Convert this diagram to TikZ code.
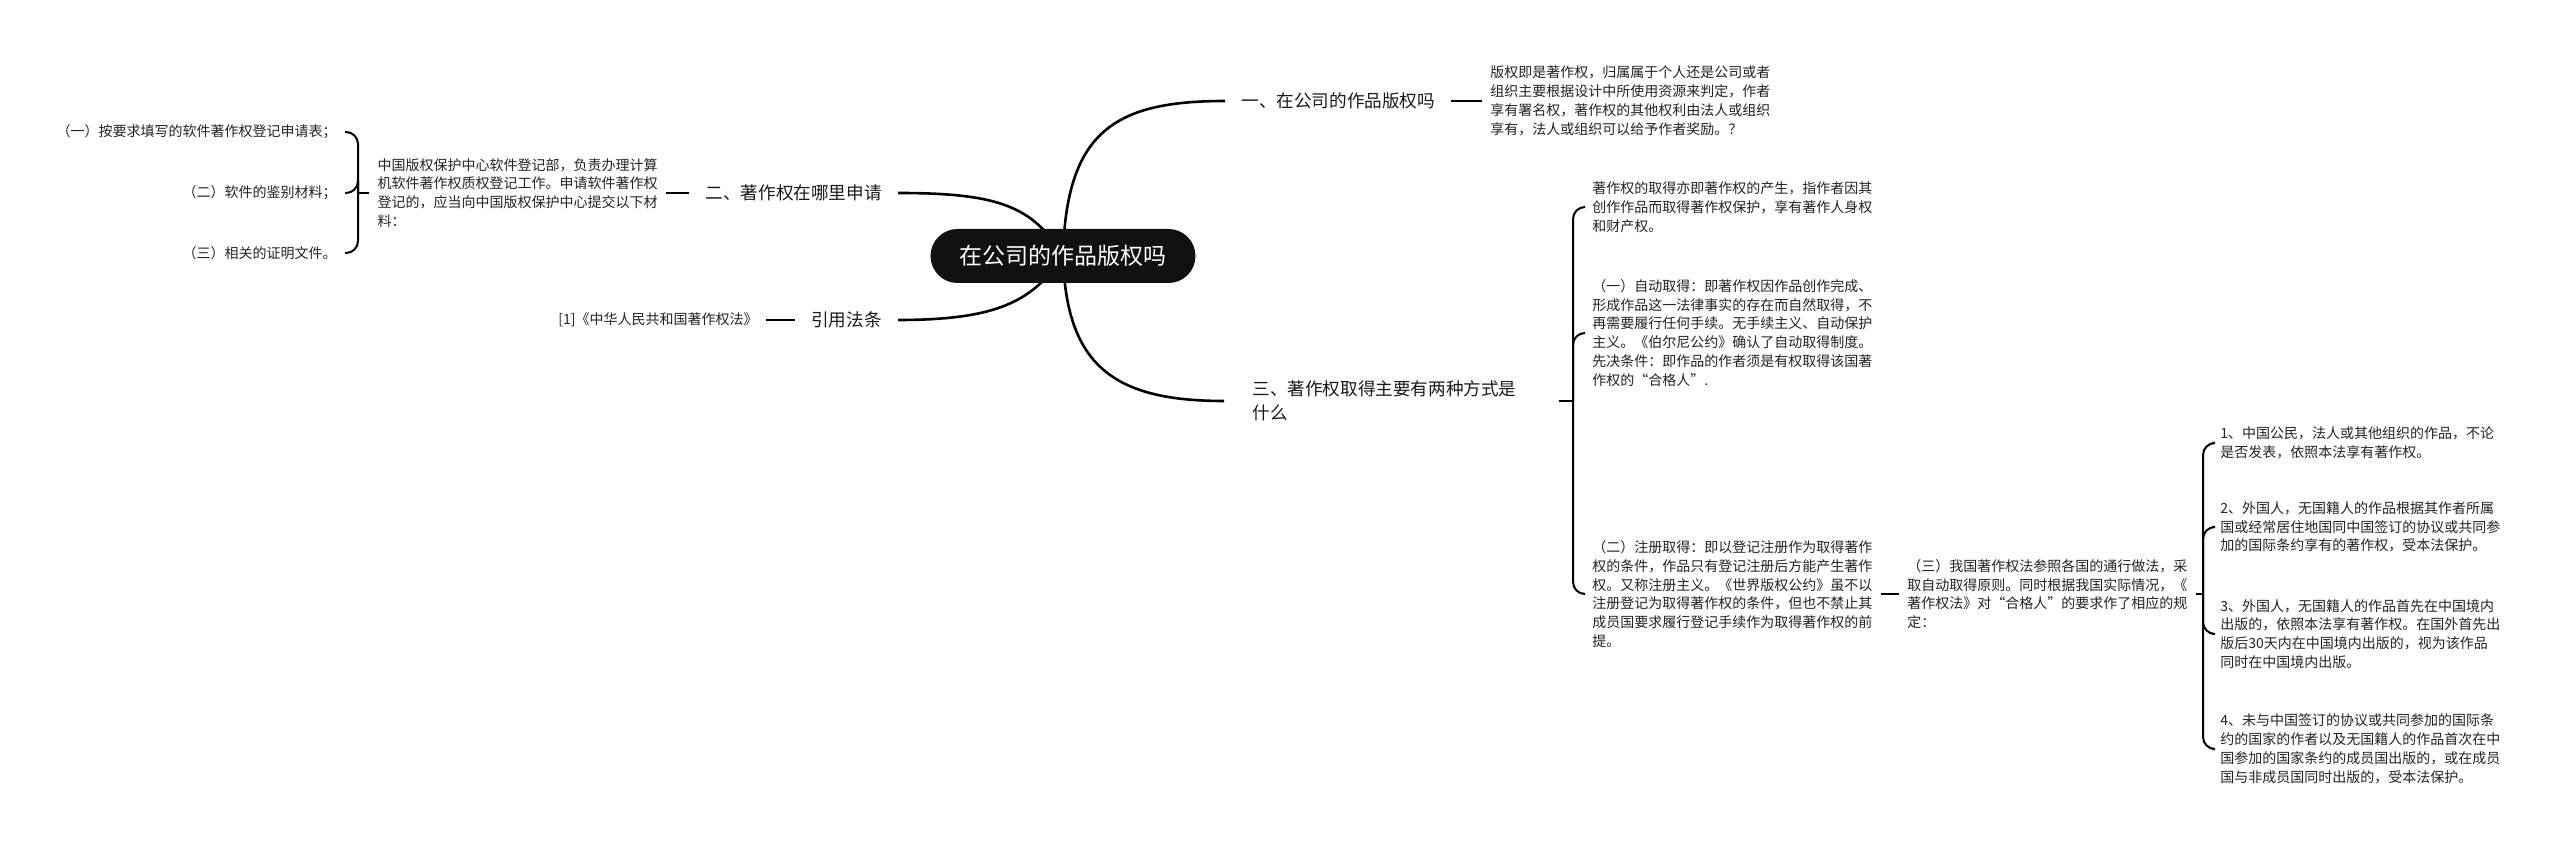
\documentclass[tikz,border=0pt]{standalone}
\usepackage{fontspec}
\newfontfamily\cjk{Noto Sans CJK SC}
\usepackage{xcolor}
\usetikzlibrary{positioning, backgrounds}
\definecolor{rootfill}{HTML}{111111}
\definecolor{inktext}{HTML}{222222}

\begin{document}
\begin{tikzpicture}[x=0.5pt, y=-0.5pt,
    root/.style={fill=rootfill, text=white, rounded corners=13.5pt,
        minimum width=132.5pt, minimum height=27pt,
        font={\cjk\fontsize{11.5}{14}\selectfont}},
    branch/.style={text=black!90, inner xsep=8pt, inner ysep=2pt, align=left,
        font={\cjk\fontsize{8.8}{12}\selectfont}},
    leaf/.style={text=inktext, inner xsep=4pt, inner ysep=2pt, align=left,
        font={\cjk\fontsize{7}{9.4}\selectfont}},
    link/.style={line width=1.3pt},
    brace/.style={line width=1pt, rounded corners=6pt}]

    \useasboundingbox (0,0) rectangle (2560,849);

    % --- Root ---
    \node[root] (root) at (1063,256) {在公司的作品版权吗};

    % --- Branch one (top right) ---
    \node[branch, anchor=west] (b1) at (1225,101) {一、在公司的作品版权吗};
    \node[leaf, anchor=west] (t1) at (1482,101) {版权即是著作权，归属属于个人还是公司或者\\组织主要根据设计中所使用资源来判定，作者\\享有署名权，著作权的其他权利由法人或组织\\享有，法人或组织可以给予作者奖励。？};

    % --- Branch two (top left) ---
    \node[branch, anchor=east] (b2) at (898,193) {二、著作权在哪里申请};
    \node[leaf, anchor=east] (t2) at (666,193) {中国版权保护中心软件登记部，负责办理计算\\机软件著作权质权登记工作。申请软件著作权\\登记的，应当向中国版权保护中心提交以下材\\料：};
    \coordinate (f2) at (358,193);
    \node[leaf, anchor=east, align=right] (l1) at (345,132) {（一）按要求填写的软件著作权登记申请表；};
    \node[leaf, anchor=east, align=right] (l2) at (345,193) {（二）软件的鉴别材料；};
    \node[leaf, anchor=east, align=right] (l3) at (345,253) {（三）相关的证明文件。};

    % --- Cited law (bottom left) ---
    \node[branch, anchor=east] (b4) at (898,320) {引用法条};
    \node[leaf, anchor=east] (t4) at (766,320) {[1]《中华人民共和国著作权法》};

    % --- Branch three (bottom right) ---
    \node[branch, anchor=west, inner xsep=14pt, text width=139pt] (b3) at (1224,401) {三、著作权取得主要有两种方式是\\什么};
    \coordinate (f3) at (1573,401);
    \node[leaf, anchor=west] (c1) at (1584,207) {著作权的取得亦即著作权的产生，指作者因其\\创作作品而取得著作权保护，享有著作人身权\\和财产权。};
    \node[leaf, anchor=west] (c2) at (1584,333) {（一）自动取得：即著作权因作品创作完成、\\形成作品这一法律事实的存在而自然取得，不\\再需要履行任何手续。无手续主义、自动保护\\主义。《伯尔尼公约》确认了自动取得制度。\\先决条件：即作品的作者须是有权取得该国著\\作权的“合格人”.};
    \node[leaf, anchor=west] (c3) at (1584,594) {（二）注册取得：即以登记注册作为取得著作\\权的条件，作品只有登记注册后方能产生著作\\权。又称注册主义。《世界版权公约》虽不以\\注册登记为取得著作权的条件，但也不禁止其\\成员国要求履行登记手续作为取得著作权的前\\提。};
    \node[leaf, anchor=west] (t5) at (1899,594) {（三）我国著作权法参照各国的通行做法，采\\取自动取得原则。同时根据我国实际情况，《\\著作权法》对“合格人”的要求作了相应的规\\定：};
    \coordinate (f5) at (2203,594);
    \node[leaf, anchor=west] (r1) at (2212,443) {1、中国公民，法人或其他组织的作品，不论\\是否发表，依照本法享有著作权。};
    \node[leaf, anchor=west] (r2) at (2212,527) {2、外国人，无国籍人的作品根据其作者所属\\国或经常居住地国同中国签订的协议或共同参\\加的国际条约享有的著作权，受本法保护。};
    \node[leaf, anchor=west] (r3) at (2212,634) {3、外国人，无国籍人的作品首先在中国境内\\出版的，依照本法享有著作权。在国外首先出\\版后30天内在中国境内出版的，视为该作品\\同时在中国境内出版。};
    \node[leaf, anchor=west] (r4) at (2212,749) {4、未与中国签订的协议或共同参加的国际条\\约的国家的作者以及无国籍人的作品首次在中\\国参加的国家条约的成员国出版的，或在成员\\国与非成员国同时出版的，受本法保护。};

    % --- Curves out of the root ---
    \begin{scope}[on background layer]
        \draw[link] (root.center) .. controls +(3,-125) and +(-110,0) .. (b1.west);
        \draw[link] (root.center) .. controls +(3,110) and +(-110,0) .. (b3.west);
        \draw[link] (root.center) .. controls +(-30,-50) and +(100,0) .. (b2.east);
        \draw[link] (root.center) .. controls +(-30,45) and +(100,0) .. (b4.east);
    \end{scope}

    % --- Stubs and brackets ---
    \draw[link] (b1.east) -- (t1.west);
    \draw[link] (b2.west) -- (t2.east);
    \draw[link] (t2.west) -- (f2);
    \foreach \n in {l1,l2,l3} \draw[brace] (f2) |- (\n.east);
    \draw[link] (b4.west) -- (t4.east);
    \draw[link] (b3.east) -- (f3);
    \foreach \n in {c1,c2,c3} \draw[brace] (f3) |- (\n.west);
    \draw[link] (c3.east) -- (t5.west);
    \draw[link] (t5.east) -- (f5);
    \foreach \n in {r1,r2,r3,r4} \draw[brace] (f5) |- (\n.west);

\end{tikzpicture}
\end{document}
